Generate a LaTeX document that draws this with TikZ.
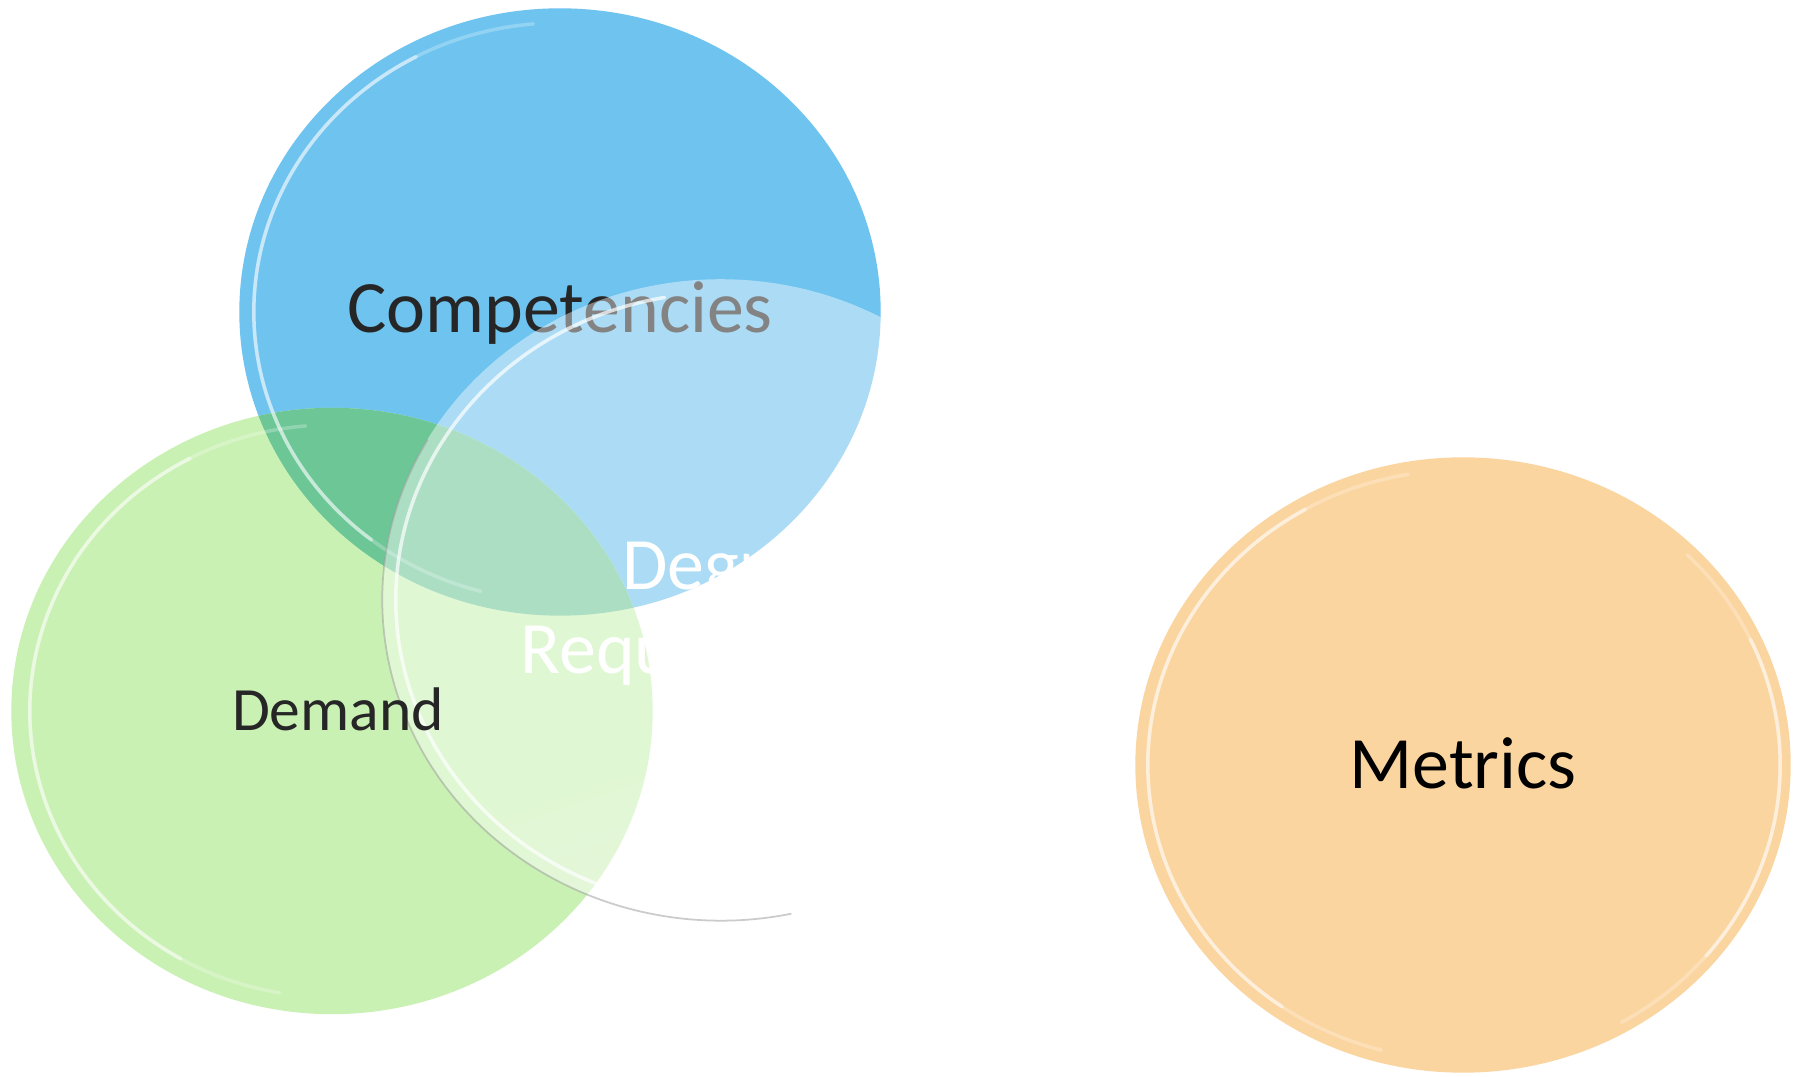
\documentclass[tikz,border=0pt]{standalone}
\usepackage{fontspec}
\setmainfont{Carlito}
\usetikzlibrary{shapes.geometric,fadings}
\definecolor{blueC}{RGB}{110,195,239}
\definecolor{greenC}{RGB}{202,241,180}
\definecolor{overlapC}{RGB}{108,198,150}
\definecolor{orangeC}{RGB}{251,213,160}
\pgfdeclarehorizontalshading{wfadeshade}{100bp}{color(0bp)=(pgftransparent!57); color(60bp)=(pgftransparent!57); color(70bp)=(pgftransparent!48); color(82bp)=(pgftransparent!22); color(92bp)=(pgftransparent!0); color(100bp)=(pgftransparent!0)}
\pgfdeclarefading{wfade}{\pgfuseshading{wfadeshade}}
\begin{document}
\begin{tikzpicture}[x=0.01cm,y=-0.01cm]
\tikzset{
  disc/.style={ellipse, draw=none, inner sep=0pt},
  lbl/.style={font=\fontsize{21}{25}\selectfont, text=black!85, anchor=base},
  shine/.style={draw=white, line width=1pt, opacity=0.5, line cap=round},
  faintshine/.style={draw=white, line width=1pt, opacity=0.25, line cap=round},
}
\useasboundingbox (0,0) rectangle (1803,1077);
\fill[white] (0,0) rectangle (1803,1077);
% coloured discs
\node[disc, fill=blueC, minimum width=6.41cm, minimum height=6.07cm] (comp) at (560,312) {};
\node[disc, fill=greenC, minimum width=6.41cm, minimum height=6.06cm] (dem) at (332,711) {};
\begin{scope}
  \clip (comp.center) ellipse [x radius=3.205cm, y radius=3.035cm];
  \fill[overlapC] (dem.center) ellipse [x radius=3.205cm, y radius=3.03cm];
\end{scope}
\node[disc, fill=orangeC, minimum width=6.55cm, minimum height=6.15cm] (met) at (1463,765) {};
% glassy highlights
\draw[faintshine] (comp.center) ++(95:3.06cm and 2.89cm) arc[start angle=95, end angle=255, x radius=3.06cm, y radius=2.89cm];
\draw[shine] (comp.center) ++(118:3.06cm and 2.89cm) arc[start angle=118, end angle=232, x radius=3.06cm, y radius=2.89cm];
\draw[faintshine] (dem.center) ++(95:3.02cm and 2.86cm) arc[start angle=95, end angle=260, x radius=3.02cm, y radius=2.86cm];
\draw[shine] (dem.center) ++(118:3.02cm and 2.86cm) arc[start angle=118, end angle=240, x radius=3.02cm, y radius=2.86cm];
\draw[faintshine] (met.center) ++(100:3.15cm and 2.95cm) arc[start angle=100, end angle=255, x radius=3.15cm, y radius=2.95cm];
\draw[shine] (met.center) ++(120:3.15cm and 2.95cm) arc[start angle=120, end angle=235, x radius=3.15cm, y radius=2.95cm];
\draw[faintshine] (met.center) ++(-60:3.17cm and 2.97cm) arc[start angle=-60, end angle=45, x radius=3.17cm, y radius=2.97cm];
\draw[shine] (met.center) ++(-40:3.17cm and 2.97cm) arc[start angle=-40, end angle=25, x radius=3.17cm, y radius=2.97cm];
% label under the overlay
\node[lbl] (tcomp) at (560,333) {Competencies};
% translucent white disc
\node[disc, fill=white, path fading=wfade, fading angle=-70, minimum width=6.77cm, minimum height=6.41cm] (deg) at (721,600) {};
\draw[black!40, line width=0.5pt, opacity=0.5] (deg.center) ++(150:3.385cm and 3.205cm) arc[start angle=150, end angle=282, x radius=3.385cm, y radius=3.205cm];
\draw[shine, opacity=0.7] (deg.center) ++(100:3.25cm and 3.07cm) arc[start angle=100, end angle=250, x radius=3.25cm, y radius=3.07cm];
\node[font=\fontsize{21}{24}\selectfont, text=white, align=center] (tdeg) at (730,614) {Degree\\Requirements};
\node[lbl, font=\fontsize{17.5}{21}\selectfont] (tdem) at (338,731) {Demand};
\node[lbl, text=black] (tmet) at (1463,789) {Metrics};
\end{tikzpicture}
\end{document}
